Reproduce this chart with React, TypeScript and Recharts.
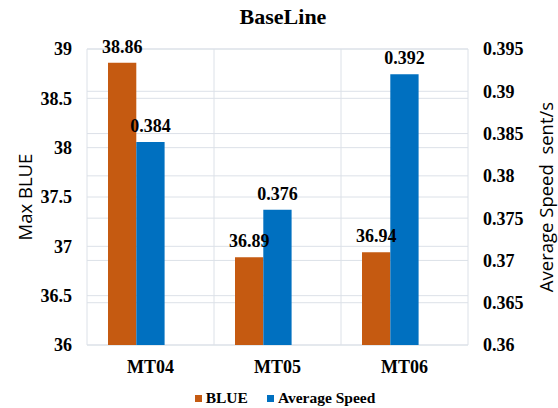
import React from 'react';
import { BarChart, Bar, XAxis, YAxis, CartesianGrid, Legend, LabelList } from 'recharts';

// Model names on the category axis
const categories = ['MT04', 'MT05', 'MT06'];
// Max BLUE score per model (left axis)
const blueScores = [38.86, 36.89, 36.94];
// Average decoding speed in sentences per second (right axis)
const avgSpeeds = [0.384, 0.376, 0.392];
// Axis tick values
const leftTicks = [36, 36.5, 37, 37.5, 38, 38.5, 39];
const rightTicks = [0.36, 0.365, 0.37, 0.375, 0.38, 0.385, 0.39, 0.395];

const ORANGE = '#C55A11';
const BLUE = '#0070C0';
const GRID = '#DCE1E8';
const SERIF = '"Liberation Serif", "Times New Roman", serif';
const SANS = '"Open Sans", "Noto Sans", sans-serif';

// A third, empty slot per category keeps the two visible bars left of centre
const data = categories.map((name, i) => ({
  name,
  blue: blueScores[i],
  speed: avgSpeeds[i],
  spacer: null as number | null,
}));

const tickStyle = { fontFamily: SERIF, fontWeight: 700, fontSize: 18, fill: '#000' };

const AxisTitle = ({ viewBox, text, dx }: { viewBox: any; text: string; dx: number }) => {
  const cx = viewBox.x + dx;
  const cy = viewBox.y + viewBox.height / 2;
  return (
    <text
      x={cx}
      y={cy}
      transform={`rotate(-90 ${cx} ${cy})`}
      textAnchor="middle"
      dominantBaseline="central"
      fontFamily={SANS}
      fontSize={18.5}
      fill="#000"
    >
      {text}
    </text>
  );
};

const LegendContent = () => {
  const items = [
    { label: 'BLUE', color: ORANGE },
    { label: 'Average Speed', color: BLUE },
  ];
  return (
    <div
      style={{
        display: 'flex',
        justifyContent: 'center',
        alignItems: 'center',
        height: 20,
        paddingLeft: 12,
        fontFamily: SERIF,
        fontWeight: 700,
        fontSize: 15.5,
        color: '#000',
        gap: 19,
      }}
    >
      {items.map((it) => (
        <div key={it.label} style={{ display: 'flex', alignItems: 'center' }}>
          <span style={{ display: 'inline-block', width: 7, height: 7, background: it.color, marginRight: 4 }} />
          <span>{it.label}</span>
        </div>
      ))}
    </div>
  );
};

export default function App() {
  return (
    <div style={{ position: 'absolute', left: 0, top: 0, width: 558, height: 408, background: '#fff' }}>
      <BarChart
        width={558}
        height={408}
        data={data}
        margin={{ top: 49, right: 0, bottom: 0, left: 0 }}
        barSize={28.3}
        barGap={0}
      >
        <CartesianGrid
          yAxisId="left"
          stroke={GRID}
          verticalCoordinatesGenerator={({ offset }: any) =>
            [0, 1, 2, 3].map((i) => offset.left + (i * offset.width) / categories.length)
          }
        />
        <CartesianGrid yAxisId="right" stroke={GRID} vertical={false} />
        <XAxis
          dataKey="name"
          height={43}
          axisLine={false}
          tickLine={false}
          tickMargin={9}
          tick={tickStyle}
          interval={0}
        />
        <YAxis
          yAxisId="left"
          width={87}
          domain={[36, 39]}
          ticks={leftTicks}
          interval={0}
          axisLine={false}
          tickLine={false}
          tickMargin={9}
          tick={tickStyle}
          label={(p: any) => <AxisTitle viewBox={p.viewBox} text="Max BLUE" dx={24} />}
        />
        <YAxis
          yAxisId="right"
          orientation="right"
          width={90}
          domain={[0.36, 0.395]}
          ticks={rightTicks}
          interval={0}
          axisLine={false}
          tickLine={false}
          tickMargin={9}
          tick={tickStyle}
          label={(p: any) => (
            <AxisTitle viewBox={p.viewBox} text={'Average Speed\u00a0 sent/s'} dx={77} />
          )}
        />
        <Legend verticalAlign="bottom" height={20} content={() => <LegendContent />} />
        <Bar yAxisId="left" dataKey="blue" name="BLUE" fill={ORANGE} isAnimationActive={false}>
          <LabelList
            dataKey="blue"
            position="top"
            offset={10}
            fill="#000"
            fontFamily={SERIF}
            fontWeight={700}
            fontSize={18}
          />
        </Bar>
        <Bar yAxisId="right" dataKey="speed" name="Average Speed" fill={BLUE} isAnimationActive={false}>
          <LabelList
            dataKey="speed"
            position="top"
            offset={10}
            fill="#000"
            fontFamily={SERIF}
            fontWeight={700}
            fontSize={18}
          />
        </Bar>
        <Bar yAxisId="left" dataKey="spacer" legendType="none" fill="none" isAnimationActive={false} />
      </BarChart>
      <svg
        width={558}
        height={32}
        style={{ position: 'absolute', left: 0, top: 0, pointerEvents: 'none' }}
      >
        <text x={283} y={24} textAnchor="middle" fontFamily={SERIF} fontWeight={700} fontSize={22} fill="#000">
          BaseLine
        </text>
      </svg>
    </div>
  );
}
